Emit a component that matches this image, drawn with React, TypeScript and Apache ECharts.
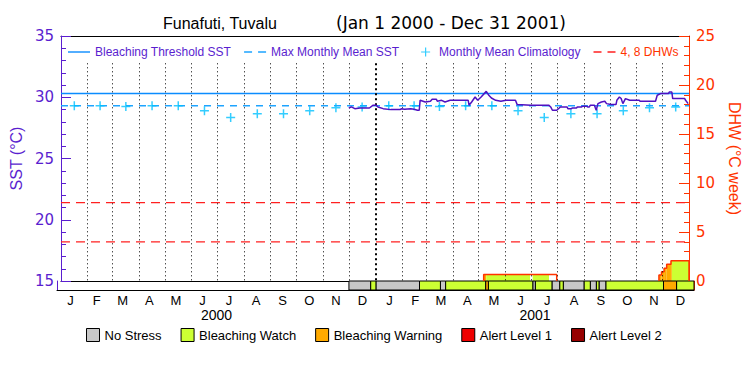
import React, { useEffect, useRef } from 'react';
import * as echarts from 'echarts';

// ---------- data ----------
const monthLetters = ['J', 'F', 'M', 'A', 'M', 'J', 'J', 'A', 'S', 'O', 'N', 'D'];
const years = [2000, 2001];
const yearLabels = ['2000', '2001'];

const climatology = [29.3, 29.3, 29.25, 29.3, 29.3, 28.9, 28.35, 28.65, 28.65, 28.9, 29.15, 29.2];
const maxMonthlyMean = 29.3;
const bleachingThreshold = 30.3;
const dhwLevels = [4, 8];

// SST: days since 2000-01-01, value in °C
const sstDay = [335, 338, 342, 348, 359, 363, 367, 369, 375, 384, 395, 396, 400, 407, 411, 415, 417, 418, 424, 430, 432, 437, 438, 443, 447, 453, 474, 475, 478, 482, 485, 489, 495, 498, 501, 506, 512, 518, 529, 531, 547, 568, 570, 572, 577, 580, 581, 589, 590, 594, 595, 600, 601, 606, 607, 612, 613, 615, 616, 621, 622, 623, 625, 629, 633, 635, 640, 646, 647, 650, 652, 654, 657, 662, 673, 674, 692, 694, 698, 707, 708, 711, 712, 726, 727, 730];
const sstValue = [29.12, 29.21, 29.07, 29.12, 29.12, 29.34, 29.34, 29.21, 29.07, 28.99, 28.99, 29.07, 29.02, 29.07, 29.02, 28.94, 28.94, 29.75, 29.61, 29.67, 29.83, 29.83, 29.67, 29.75, 29.61, 29.75, 29.75, 29.34, 29.61, 30.02, 29.75, 30.02, 30.48, 30.16, 29.94, 29.75, 29.67, 29.75, 29.75, 29.4, 29.34, 29.34, 29.21, 28.94, 28.94, 29.12, 29.21, 29.21, 29.07, 29.07, 29.12, 29.12, 29.21, 29.21, 29.26, 29.26, 29.21, 29.21, 29.34, 29.34, 29.12, 28.94, 29.48, 29.61, 29.67, 29.48, 29.4, 29.4, 29.75, 30.02, 29.9, 29.48, 29.89, 29.75, 29.75, 29.67, 29.67, 30.16, 30.3, 30.3, 30.43, 30.43, 29.89, 29.89, 29.75, 29.48];

// Bleaching alert level periods (start day; each lasts until the next start)
const stressStart = [335, 360, 366, 416, 440, 446, 492, 495, 546, 549, 568, 577, 581, 605, 612, 619, 622, 630, 696, 711];
const stressLevel = [0, 1, 0, 1, 0, 1, 2, 1, 0, 1, 0, 1, 0, 1, 0, 1, 0, 1, 2, 1];
const stressNames = ['No Stress', 'Bleaching Watch', 'Bleaching Warning', 'Alert Level 1', 'Alert Level 2'];

// Degree heating weeks (step periods)
const dhwStart = [492, 696, 699, 702, 705, 710];
const dhwEnd = [577, 699, 702, 705, 710, 731];
const dhwValue = [0.67, 0.6, 0.95, 1.3, 1.72, 2.07];

// ---------- styles ----------
const FONT = "'Liberation Sans', Arial, sans-serif";
const WIDE_FONT = "'DejaVu Sans', 'Liberation Sans', sans-serif";
const PURPLE = '#5a1ecf';
const SST_COLOR = '#5010c0';
const RED_AXIS = '#ff3300';
const DHW_RED = '#ff2020';
const THR_BLUE = '#0a8cff';
const MMM_BLUE = '#1ea4ff';
const CLIM_CYAN = '#00c0ff';
const stressColors = ['#c8c8c8', '#ccff33', '#ffaa00', '#ee0000', '#960000'];

const ICON_SOLID = 'path://M0 0 M22 10 M0 4.3 H22 V5.7 H0 Z';
const ICON_DASH = 'path://M0 0 M22 10 M0 4.3 H8 V5.7 H0 Z M14 4.3 H22 V5.7 H14 Z';
const ICON_CROSS = 'path://M0 0 M22 10 M9 4.4 H18 V5.6 H9 Z M12.9 0.5 H14.1 V9.5 H12.9 Z';

// ---------- derived ----------
const DAY0 = Date.UTC(2000, 0, 1);
const dayOf = (y: number, m: number, d: number) => Math.round((Date.UTC(y, m, d) - DAY0) / 86400000);
const TOTAL = dayOf(years[years.length - 1] + 1, 0, 1);

const monthStarts: number[] = [];
years.forEach((y) => { for (let m = 0; m < 12; m++) monthStarts.push(dayOf(y, m, 1)); });
const monthMids = monthStarts.map((s, i) => (s + (i + 1 < monthStarts.length ? monthStarts[i + 1] : TOTAL)) / 2);
const yearMids = years.map((y) => (dayOf(y, 0, 1) + dayOf(y + 1, 0, 1)) / 2);

const stressEnd = stressStart.map((s, i) => (i + 1 < stressStart.length ? stressStart[i + 1] : TOTAL));

const dhwFill: number[][] = [];
dhwStart.forEach((s, i) => {
  stressStart.forEach((ss, j) => {
    if (stressLevel[j] === 0) return;
    const a = Math.max(s, ss);
    const b = Math.min(dhwEnd[i], stressEnd[j]);
    if (b > a) dhwFill.push([a, b, dhwValue[i], stressLevel[j]]);
  });
});

const dhwOutlineGroups: number[][][] = [];
{
  let cur: number[][] = [];
  dhwStart.forEach((s, i) => {
    if (cur.length && s !== dhwEnd[i - 1]) {
      cur.push([dhwEnd[i - 1], 0]);
      dhwOutlineGroups.push(cur);
      cur = [];
    }
    if (!cur.length) cur.push([s, 0]);
    cur.push([s, dhwValue[i]]);
    cur.push([dhwEnd[i], dhwValue[i]]);
  });
  cur.push([dhwEnd[dhwEnd.length - 1], 0]);
  dhwOutlineGroups.push(cur);
}

const monthLineData = monthStarts
  .filter((d) => d > 0)
  .map((d) => {
    const isYear = years.some((y) => dayOf(y, 0, 1) === d);
    return [
      {
        coord: [d, 32.77],
        lineStyle: isYear
          ? { color: '#000', width: 2, type: [2, 3] }
          : { color: '#000', width: 1, type: [1, 3] },
      },
      { coord: [d, 15] },
    ];
  });

const rectRender = (colorOf: (lvl: number) => string, y0: number, useTop: boolean, stroke: boolean) =>
  (params: any, api: any) => {
    const s = api.value(0);
    const e = api.value(1);
    const top = useTop ? api.value(2) : 1;
    const lvl = api.value(3);
    const p0 = api.coord([s, top]);
    const p1 = api.coord([e, y0]);
    return {
      type: 'rect',
      shape: { x: p0[0], y: p0[1], width: p1[0] - p0[0], height: p1[1] - p0[1] },
      style: stroke
        ? { fill: colorOf(lvl), stroke: '#000', lineWidth: 1 }
        : { fill: colorOf(lvl) },
    };
  };

const baseX = {
  type: 'value',
  min: 0,
  max: TOTAL,
  axisTick: { show: false },
  axisLabel: { show: false },
  splitLine: { show: false },
  axisLine: { show: true, onZero: false, lineStyle: { color: '#000', width: 1 } },
};

const option: any = {
  animation: false,
  backgroundColor: '#fff',
  textStyle: { fontFamily: FONT },
  title: [
    { text: 'Funafuti, Tuvalu', left: 163, top: 15, padding: 0, textStyle: { fontSize: 16, fontWeight: 'normal', color: '#000', fontFamily: FONT } },
    { text: '(Jan 1 2000 - Dec 31 2001)', left: 336, top: 14, padding: 0, textStyle: { fontSize: 17, fontWeight: 'normal', color: '#000', fontFamily: WIDE_FONT } },
  ],
  legend: [
    {
      top: 41,
      left: 63,
      itemWidth: 22,
      itemHeight: 10,
      itemGap: 13,
      selectedMode: false,
      textStyle: { fontSize: 12, color: PURPLE, fontFamily: FONT },
      data: [
        { name: 'Bleaching Threshold SST', icon: ICON_SOLID },
        { name: 'Max Monthly Mean SST', icon: ICON_DASH },
        { name: 'Monthly Mean Climatology', icon: ICON_CROSS, itemStyle: { borderWidth: 0 } },
        { name: '4, 8 DHWs', icon: ICON_DASH, textStyle: { color: RED_AXIS } },
      ],
    },
    {
      top: 323,
      left: 81,
      itemWidth: 13,
      itemHeight: 13,
      itemGap: 19,
      icon: 'rect',
      selectedMode: false,
      itemStyle: { borderColor: '#000', borderWidth: 1 },
      textStyle: { fontSize: 13, color: '#000', fontFamily: FONT },
      data: stressNames,
    },
  ],
  grid: [
    { left: 57, top: 36, width: 637, height: 245 },
    { left: 57, top: 281, width: 637, height: 9 },
  ],
  xAxis: [
    { ...baseX, gridIndex: 0, position: 'bottom' },
    { ...baseX, gridIndex: 0, position: 'top' },
    {
      ...baseX,
      gridIndex: 1,
      position: 'bottom',
      axisLabel: {
        show: true,
        customValues: monthMids,
        margin: 4,
        fontSize: 13,
        color: '#000',
        fontFamily: FONT,
        formatter: (v: number) => {
          const i = monthMids.findIndex((m) => Math.abs(m - v) < 0.01);
          return i >= 0 ? monthLetters[i % 12] : '';
        },
      },
    },
    {
      ...baseX,
      gridIndex: 1,
      position: 'bottom',
      axisLine: { show: false, onZero: false },
      axisLabel: {
        show: true,
        customValues: yearMids,
        margin: 18,
        fontSize: 14,
        color: '#000',
        fontFamily: FONT,
        formatter: (v: number) => {
          const i = yearMids.findIndex((m) => Math.abs(m - v) < 0.01);
          return i >= 0 ? yearLabels[i] : '';
        },
      },
    },
  ],
  yAxis: [
    {
      gridIndex: 0,
      type: 'value',
      position: 'left',
      min: 15,
      max: 35,
      interval: 5,
      axisLine: { show: true, onZero: false, lineStyle: { color: PURPLE, width: 1 } },
      axisTick: { show: true, inside: true, length: 10, lineStyle: { color: PURPLE } },
      minorTick: { show: true, splitNumber: 5, length: 5, lineStyle: { color: PURPLE } },
      axisLabel: { color: PURPLE, fontSize: 15, margin: 7, fontFamily: WIDE_FONT },
      splitLine: { show: false },
      name: 'SST (°C)',
      nameLocation: 'middle',
      nameGap: 32,
      nameTextStyle: { color: PURPLE, fontSize: 16, fontFamily: FONT },
    },
    {
      gridIndex: 0,
      type: 'value',
      position: 'right',
      min: 0,
      max: 25,
      interval: 5,
      axisLine: { show: true, onZero: false, lineStyle: { color: RED_AXIS, width: 1 } },
      axisTick: { show: true, inside: true, length: 10, lineStyle: { color: RED_AXIS } },
      minorTick: { show: true, splitNumber: 5, length: 5, lineStyle: { color: RED_AXIS } },
      axisLabel: { color: RED_AXIS, fontSize: 15, margin: 7, fontFamily: WIDE_FONT },
      splitLine: { show: false },
      name: 'DHW (°C week)',
      nameLocation: 'middle',
      nameGap: 32,
      nameRotate: -90,
      nameTextStyle: { color: RED_AXIS, fontSize: 16, fontFamily: FONT },
    },
    {
      gridIndex: 1, type: 'value', position: 'left', min: 0, max: 1,
      axisLine: { show: true, onZero: false, lineStyle: { color: PURPLE } },
      axisTick: { show: false }, axisLabel: { show: false }, splitLine: { show: false },
    },
    {
      gridIndex: 1, type: 'value', position: 'right', min: 0, max: 1,
      axisLine: { show: true, onZero: false, lineStyle: { color: RED_AXIS } },
      axisTick: { show: false }, axisLabel: { show: false }, splitLine: { show: false },
    },
  ],
  series: [
    {
      name: 'Bleaching Threshold SST',
      type: 'line',
      xAxisIndex: 0,
      yAxisIndex: 0,
      data: [[0, bleachingThreshold], [TOTAL, bleachingThreshold]],
      symbol: 'none',
      lineStyle: { color: THR_BLUE, width: 1.5 },
      itemStyle: { color: THR_BLUE },
      z: 2,
      markLine: {
        silent: true,
        symbol: ['none', 'none'],
        label: { show: false },
        data: monthLineData,
      },
    },
    {
      name: 'Max Monthly Mean SST',
      type: 'line',
      xAxisIndex: 0,
      yAxisIndex: 0,
      data: [[0, maxMonthlyMean], [TOTAL, maxMonthlyMean]],
      symbol: 'none',
      lineStyle: { color: MMM_BLUE, width: 1.5, type: [7, 6] },
      itemStyle: { color: MMM_BLUE },
      z: 2,
    },
    {
      name: 'Monthly Mean Climatology',
      type: 'scatter',
      xAxisIndex: 0,
      yAxisIndex: 0,
      data: monthMids.map((m, i) => [m, climatology[i % 12]]),
      symbol: 'path://M0 5 L10 5 M5 0 L5 10',
      symbolSize: 9,
      itemStyle: { color: CLIM_CYAN, borderColor: CLIM_CYAN, borderWidth: 1.5 },
      z: 3,
    },
    ...dhwLevels.map((lv) => ({
      name: '4, 8 DHWs',
      type: 'line',
      xAxisIndex: 0,
      yAxisIndex: 1,
      data: [[0, lv], [TOTAL, lv]],
      symbol: 'none',
      lineStyle: { color: DHW_RED, width: 1.2, type: [9, 6] },
      itemStyle: { color: DHW_RED },
      z: 2,
    })),
    {
      name: 'DHW fill',
      type: 'custom',
      xAxisIndex: 0,
      yAxisIndex: 1,
      data: dhwFill,
      encode: { x: [0, 1], y: 2 },
      renderItem: rectRender((l) => stressColors[l], 0, true, false),
      z: 3,
    },
    ...dhwOutlineGroups.map((g) => ({
      name: 'DHW',
      type: 'line',
      xAxisIndex: 0,
      yAxisIndex: 1,
      data: g,
      symbol: 'none',
      lineStyle: { color: RED_AXIS, width: 1.5 },
      z: 4,
    })),
    {
      name: 'SST',
      type: 'line',
      xAxisIndex: 0,
      yAxisIndex: 0,
      data: sstDay.map((d, i) => [d, sstValue[i]]),
      symbol: 'none',
      lineStyle: { color: SST_COLOR, width: 1.5 },
      z: 5,
    },
    ...stressNames.map((nm, k) => ({
      name: nm,
      type: 'custom',
      xAxisIndex: 2,
      yAxisIndex: 2,
      data: stressStart
        .map((s, j) => [s, stressEnd[j], 1, stressLevel[j]])
        .filter((r) => r[3] === k),
      encode: { x: [0, 1] },
      itemStyle: { color: stressColors[k], borderColor: '#000', borderWidth: 1 },
      renderItem: rectRender((l) => stressColors[l], 0, false, true),
      z: 3,
    })),
  ],
};

export default function App() {
  const ref = useRef<HTMLDivElement>(null);
  useEffect(() => {
    if (!ref.current) return;
    const chart = echarts.init(ref.current, null, { renderer: 'svg' });
    chart.setOption(option);
    return () => chart.dispose();
  }, []);
  return (
    <div
      ref={ref}
      style={{ position: 'absolute', left: 0, top: 0, width: 750, height: 375, background: '#fff' }}
    />
  );
}
